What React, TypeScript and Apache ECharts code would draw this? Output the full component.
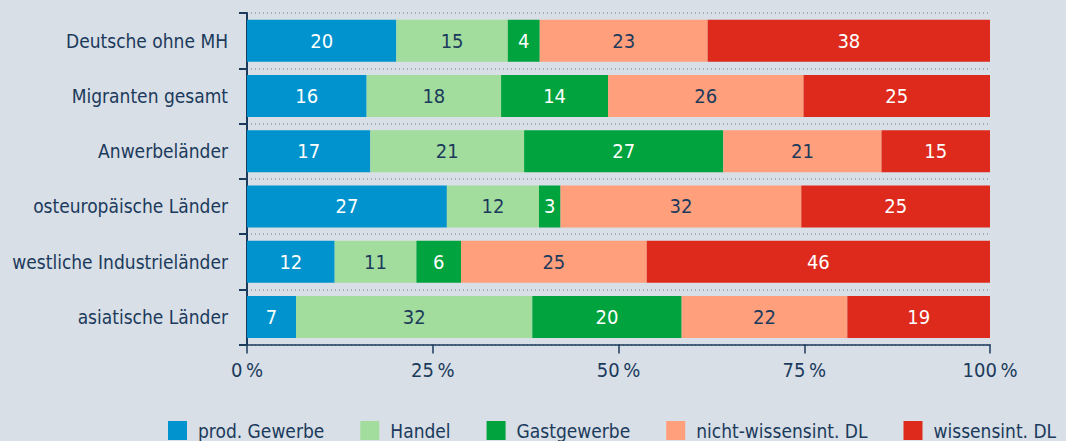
import React, { useEffect, useRef } from "react";
import * as echarts from "echarts";

const categories = [
  "Deutsche ohne MH",
  "Migranten gesamt",
  "Anwerbeländer",
  "osteuropäische Länder",
  "westliche Industrieländer",
  "asiatische Länder",
];
const seriesNames = ["prod. Gewerbe", "Handel", "Gastgewerbe", "nicht-wissensint. DL", "wissensint. DL"];
const prodGewerbe = [20.1, 16.1, 16.6, 26.9, 11.8, 6.6];
const handel = [15.0, 18.1, 20.7, 12.4, 11.0, 31.8];
const gastgewerbe = [4.3, 14.4, 26.8, 2.9, 6.0, 20.1];
const nichtWissensint = [22.6, 26.3, 21.3, 32.4, 25.0, 22.3];
const wissensint = [38.0, 25.1, 14.6, 25.4, 46.2, 19.2];
const xTickValues = [0, 25, 50, 75, 100];

const seriesData = [prodGewerbe, handel, gastgewerbe, nichtWissensint, wissensint];
const barColors = ["#0093cd", "#a3dd9d", "#00a33d", "#ff9f7c", "#dd2a1c"];
const labelColors = ["#ffffff", "#1b3a5c", "#ffffff", "#1b3a5c", "#ffffff"];

const NAVY = "#1b3a5c";
const FONT = "'Liberation Sans Narrow', 'DejaVu Sans Condensed', 'Noto Sans', sans-serif";

export default function App() {
  const ref = useRef<HTMLDivElement>(null);
  useEffect(() => {
    if (!ref.current) return;
    const chart = echarts.init(ref.current, null, { renderer: "svg" });
    chart.setOption({
      animation: false,
      backgroundColor: "#d8dfe6",
      textStyle: { fontFamily: FONT },
      grid: { left: 247, right: 76, top: 13, bottom: 96.5, containLabel: false, outerBoundsMode: "none" },
      legend: {
        data: seriesNames,
        left: 168,
        top: 421,
        padding: 0,
        icon: "rect",
        itemWidth: 19,
        itemHeight: 19,
        itemGap: 36,
        textStyle: { fontSize: 19, color: NAVY, fontFamily: FONT, padding: [0, 0, 0, 6] },
      },
      xAxis: {
        type: "value",
        min: xTickValues[0],
        max: xTickValues[xTickValues.length - 1],
        interval: 25,
        axisLine: { show: true, lineStyle: { color: NAVY, width: 1.5 } },
        axisTick: { show: true, length: 9, lineStyle: { color: NAVY, width: 1.5 } },
        splitLine: { show: false },
        axisLabel: {
          formatter: (v: number) => `${v}\u2009%`,
          fontSize: 20,
          color: NAVY,
          margin: 15,
          fontFamily: FONT,
        },
      },
      yAxis: {
        type: "category",
        inverse: true,
        data: categories,
        axisLine: { show: true, lineStyle: { color: NAVY, width: 2 } },
        axisTick: { show: true, length: 8, lineStyle: { color: NAVY, width: 2 } },
        splitLine: { show: true, lineStyle: { color: "#8f9cab", type: [1, 3], width: 1.5 } },
        axisLabel: { fontSize: 19, color: NAVY, margin: 19, fontFamily: FONT },
      },
      series: seriesNames.map((name, i) => ({
        name,
        type: "bar",
        stack: "total",
        barWidth: 42,
        data: seriesData[i],
        itemStyle: { color: barColors[i] },
        label: {
          show: true,
          position: "inside",
          formatter: (p: any) => `${Math.round(p.value)}`,
          fontSize: 20,
          color: labelColors[i],
          fontFamily: FONT,
        },
      })),
    });
    return () => chart.dispose();
  }, []);
  return <div ref={ref} style={{ position: "fixed", left: 0, top: 0, width: 1066, height: 441 }} />;
}
